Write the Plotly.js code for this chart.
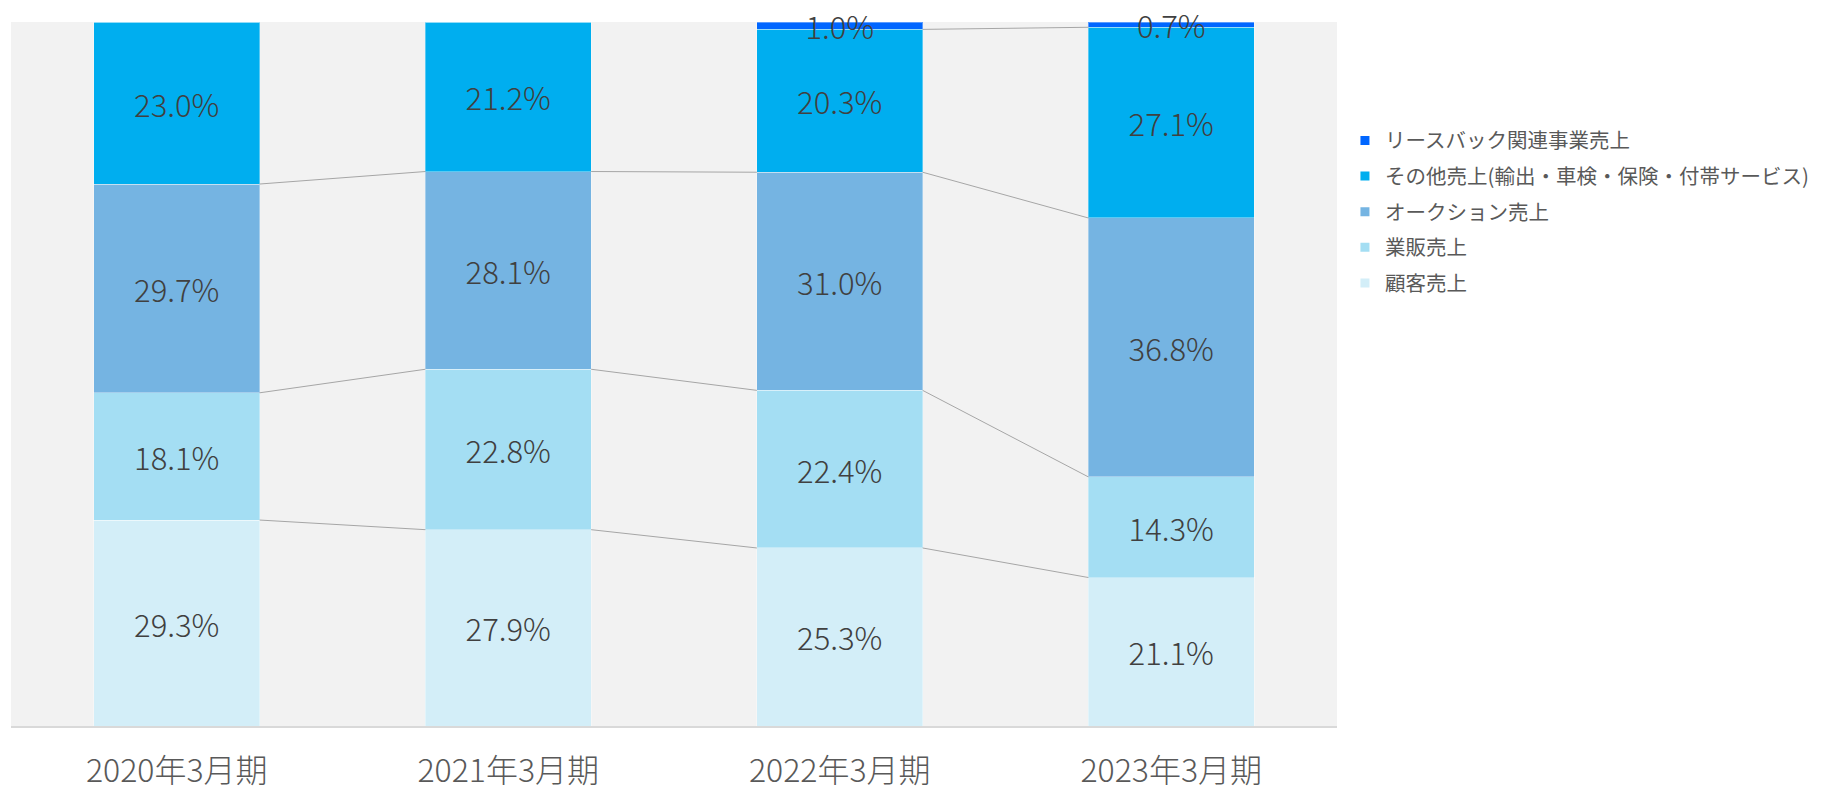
<!DOCTYPE html>
<html>
<head>
<meta charset="utf-8">
<script src="https://cdn.plot.ly/plotly-3.0.1.min.js"></script>
<style>html,body{margin:0;padding:0;background:#fff;}#chart{width:1825px;height:788px;}</style>
</head>
<body>
<div id="chart"></div>
<script>
const categories = ['2020年3月期', '2021年3月期', '2022年3月期', '2023年3月期'];
const seriesNames = ['顧客売上', '業販売上', 'オークション売上', 'その他売上(輸出・車検・保険・付帯サービス)', 'リースバック関連事業売上'];
const kokyaku = [29.3, 27.9, 25.3, 21.1];
const gyohan = [18.1, 22.8, 22.4, 14.3];
const auction = [29.7, 28.1, 31.0, 36.8];
const sonota = [23.0, 21.2, 20.3, 27.1];
const leaseback = [0, 0, 1.0, 0.7];

const seriesValues = [kokyaku, gyohan, auction, sonota, leaseback];
const colors = ['#D3EEF8', '#A4DEF3', '#75B4E2', '#00AEEF', '#0066FF'];
const FONT = '"Noto Sans CJK JP", "Noto Sans", sans-serif';
const idx = categories.map((c, i) => i);
const barWidth = 0.5;

// 100% stacked: totals per category
const totals = idx.map(i => seriesValues.reduce((a, vals) => a + vals[i], 0));

const traces = [];
seriesValues.forEach((vals, s) => {
  traces.push({
    type: 'bar',
    x: idx,
    y: vals,
    width: barWidth,
    name: seriesNames[s],
    showlegend: false,
    marker: {color: colors[s], line: {color: 'rgba(255,255,255,0.35)', width: 1}},
    text: vals.map(v => v > 0 ? v.toFixed(1) + '%' : ''),
    textposition: 'inside',
    insidetextanchor: 'middle',
    textangle: 0,
    constraintext: 'none',
    cliponaxis: false,
    textfont: {family: FONT, size: 31, color: '#404040', weight: 300},
    hoverinfo: 'skip'
  });
});

// series connector lines (between tops of each stacked segment, normalised like the bars)
const cum = [];
seriesValues.forEach((vals, s) => {
  cum.push(vals.map((v, i) => v / totals[i] * 100 + (s > 0 ? cum[s - 1][i] : 0)));
});
const lx = [], ly = [];
cum.forEach(tops => {
  for (let i = 0; i < tops.length - 1; i++) {
    if (tops[i] >= 99.95 || tops[i + 1] >= 99.95) continue;
    lx.push(i + barWidth / 2, i + 1 - barWidth / 2, null);
    ly.push(tops[i], tops[i + 1], null);
  }
});
traces.push({
  type: 'scatter', mode: 'lines', x: lx, y: ly,
  line: {color: '#A6A6A6', width: 1},
  showlegend: false, hoverinfo: 'skip', cliponaxis: false
});

// legend entries (small square markers)
for (let s = seriesNames.length - 1; s >= 0; s--) {
  traces.push({
    type: 'scatter', mode: 'markers', x: [null], y: [null],
    name: seriesNames[s],
    legendgroup: 'g' + s,
    marker: {symbol: 'square', size: 9, color: colors[s]},
    showlegend: true, hoverinfo: 'skip'
  });
}

const layout = {
  width: 1825, height: 788,
  margin: {l: 11, r: 486, t: 22, b: 62},
  paper_bgcolor: '#FFFFFF',
  plot_bgcolor: '#F2F2F2',
  barmode: 'stack',
  barnorm: 'percent',
  uniformtext: {mode: 'show', minsize: 31},
  showlegend: true,
  legend: {
    x: 1.006, xanchor: 'left', y: 0.86, yanchor: 'top',
    traceorder: 'grouped',
    tracegroupgap: 6,
    font: {family: FONT, size: 20.5, color: '#595959'},
    bgcolor: 'rgba(0,0,0,0)'
  },
  xaxis: {
    type: 'linear',
    range: [-0.5, categories.length - 0.5],
    tickvals: idx,
    ticktext: categories,
    showgrid: false, zeroline: false,
    showline: true, linecolor: '#D9D9D9', linewidth: 2,
    ticks: 'outside', ticklen: 16, tickcolor: 'rgba(0,0,0,0)',
    tickfont: {family: FONT, size: 32, color: '#595959', weight: 300},
    fixedrange: true
  },
  yaxis: {
    range: [0, 100.05],
    showgrid: false, zeroline: false, showticklabels: false,
    showline: false, fixedrange: true
  },
  font: {family: FONT}
};

Plotly.newPlot('chart', traces, layout, {displayModeBar: false, staticPlot: true});
</script>
</body>
</html>
